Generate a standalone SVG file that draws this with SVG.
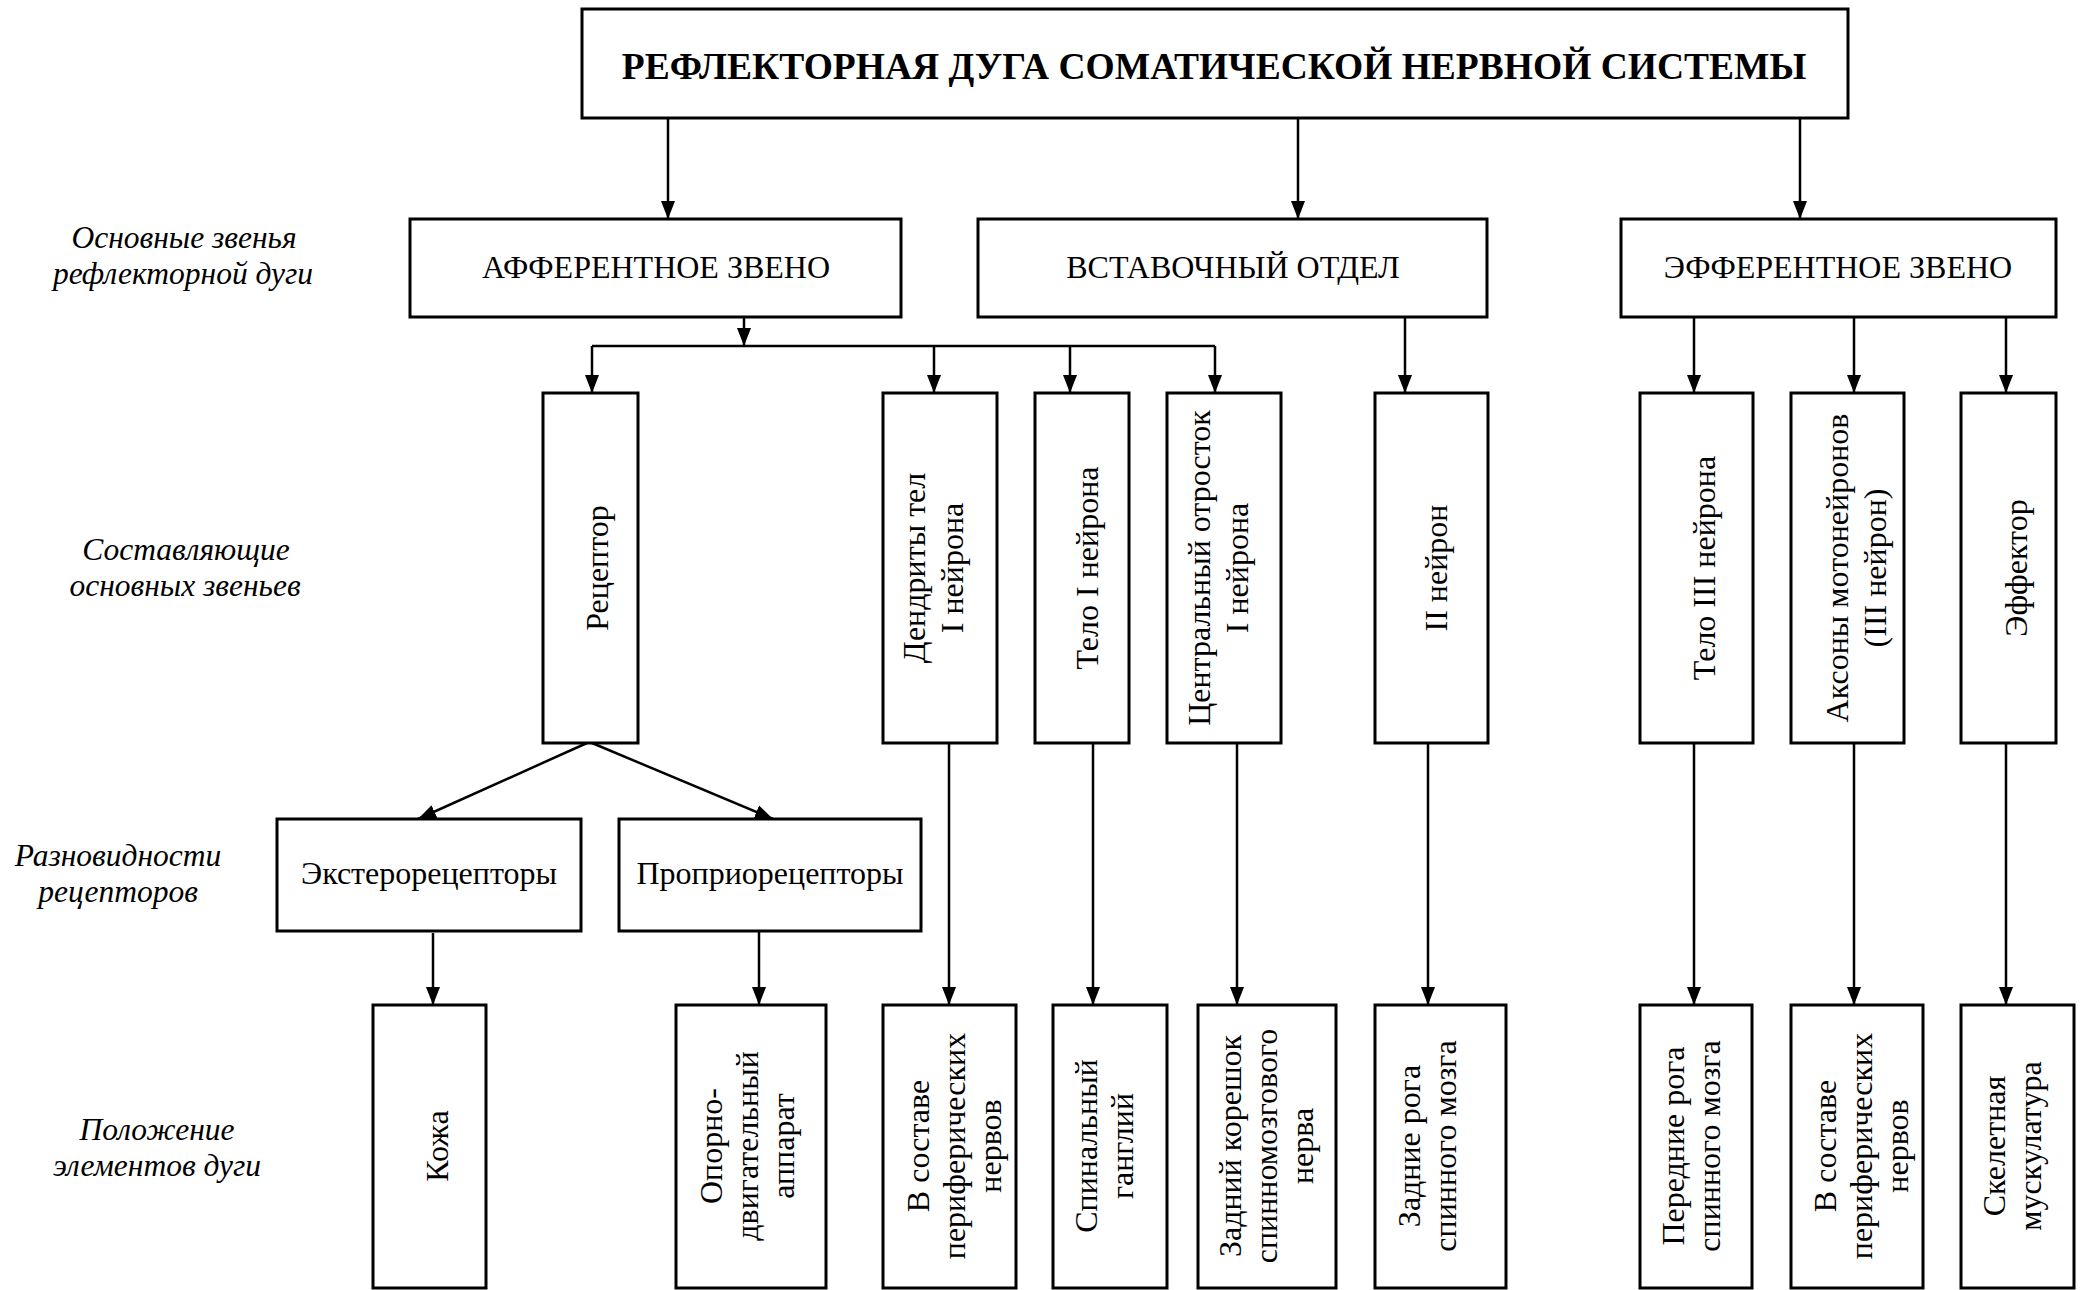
<svg xmlns="http://www.w3.org/2000/svg" width="2087" height="1290" viewBox="0 0 2087 1290">
  <defs>
    <marker id="arrow" markerUnits="userSpaceOnUse" markerWidth="18" markerHeight="16" refX="18" refY="8" orient="auto">
      <path d="M0,1 L18,8 L0,15 z" fill="#000"/>
    </marker>
    <style>
      .box { fill: #fff; stroke: #000; stroke-width: 3; }
      .t { font-family: "Liberation Serif", "Times New Roman", serif; fill: #000; }
      .title { font-size: 37.5px; font-weight: bold; text-anchor: middle; }
      .hdr { font-size: 32px; text-anchor: middle; }
      .lbl { font-size: 32px; text-anchor: middle; }
      .side { font-size: 31.5px; font-style: italic; text-anchor: middle; }
      .edge { fill: none; stroke: #000; stroke-width: 2.5; }
      .arr { marker-end: url(#arrow); }
    </style>
  </defs>
  <rect width="2087" height="1290" fill="#fff"/>

  <!-- row captions on the left -->
  <g id="captions" class="t side">
    <text x="184" y="248">Основные звенья</text>
    <text x="183" y="284">рефлекторной дуги</text>
    <text x="186" y="560">Составляющие</text>
    <text x="185" y="596">основных звеньев</text>
    <text x="118" y="866">Разновидности</text>
    <text x="118" y="902">рецепторов</text>
    <text x="157" y="1140">Положение</text>
    <text x="157" y="1176">элементов дуги</text>
  </g>

  <!-- connectors -->
  <g id="connectors">
    <path class="edge arr" d="M668,118 V219"/>
    <path class="edge arr" d="M1298,118 V219"/>
    <path class="edge arr" d="M1800,118 V219"/>
    <path class="edge arr" d="M744,317 V346"/>
    <path class="edge" d="M592,346 H1215"/>
    <path class="edge arr" d="M592,346 V393"/>
    <path class="edge arr" d="M934,346 V393"/>
    <path class="edge arr" d="M1070,346 V393"/>
    <path class="edge arr" d="M1215,346 V393"/>
    <path class="edge arr" d="M1405,317 V393"/>
    <path class="edge arr" d="M1694,317 V393"/>
    <path class="edge arr" d="M1854,317 V393"/>
    <path class="edge arr" d="M2006,317 V393"/>
    <path class="edge arr" d="M587,743 L418,819"/>
    <path class="edge arr" d="M592,743 L773,819"/>
    <path class="edge arr" d="M433,933 V1005"/>
    <path class="edge arr" d="M759,931 V1005"/>
    <path class="edge arr" d="M949,743 V1005"/>
    <path class="edge arr" d="M1093,743 V1005"/>
    <path class="edge arr" d="M1237,743 V1005"/>
    <path class="edge arr" d="M1428,743 V1005"/>
    <path class="edge arr" d="M1694,743 V1005"/>
    <path class="edge arr" d="M1854,743 V1005"/>
    <path class="edge arr" d="M2006,743 V1005"/>
  </g>

  <!-- title -->
  <g id="title">
    <rect class="box" x="582" y="9" width="1266" height="109"/>
    <text class="t title" x="1214" y="79">РЕФЛЕКТОРНАЯ ДУГА СОМАТИЧЕСКОЙ НЕРВНОЙ СИСТЕМЫ</text>
  </g>

  <!-- main links -->
  <g id="afferent">
    <rect class="box" x="410" y="219" width="491" height="98"/>
    <text class="t hdr" x="656" y="278">АФФЕРЕНТНОЕ ЗВЕНО</text>
  </g>
  <g id="intercalary">
    <rect class="box" x="978" y="219" width="509" height="98"/>
    <text class="t hdr" x="1233" y="278">ВСТАВОЧНЫЙ ОТДЕЛ</text>
  </g>
  <g id="efferent">
    <rect class="box" x="1621" y="219" width="435" height="98"/>
    <text class="t hdr" x="1838" y="278">ЭФФЕРЕНТНОЕ ЗВЕНО</text>
  </g>

  <!-- components (vertical labels) -->
  <g id="receptor">
    <rect class="box" x="543" y="393" width="95" height="350"/>
    <text class="t lbl" transform="translate(608,568) rotate(-90)">Рецептор</text>
  </g>
  <g id="dendrites">
    <rect class="box" x="883" y="393" width="114" height="350"/>
    <text class="t lbl" transform="translate(925,568) rotate(-90)"><tspan x="0" y="0">Дендриты тел</tspan><tspan x="0" y="38">I нейрона</tspan></text>
  </g>
  <g id="body-1">
    <rect class="box" x="1035" y="393" width="94" height="350"/>
    <text class="t lbl" transform="translate(1098,568) rotate(-90)">Тело I нейрона</text>
  </g>
  <g id="central-process">
    <rect class="box" x="1167" y="393" width="114" height="350"/>
    <text class="t lbl" transform="translate(1210,568) rotate(-90)"><tspan x="0" y="0">Центральный отросток</tspan><tspan x="0" y="38">I нейрона</tspan></text>
  </g>
  <g id="neuron-2">
    <rect class="box" x="1375" y="393" width="113" height="350"/>
    <text class="t lbl" transform="translate(1447,568) rotate(-90)">II нейрон</text>
  </g>
  <g id="body-3">
    <rect class="box" x="1640" y="393" width="113" height="350"/>
    <text class="t lbl" transform="translate(1715,568) rotate(-90)">Тело III нейрона</text>
  </g>
  <g id="axons">
    <rect class="box" x="1791" y="393" width="113" height="350"/>
    <text class="t lbl" transform="translate(1848,568) rotate(-90)"><tspan x="0" y="0">Аксоны мотонейронов</tspan><tspan x="0" y="38">(III нейрон)</tspan></text>
  </g>
  <g id="effector">
    <rect class="box" x="1961" y="393" width="95" height="350"/>
    <text class="t lbl" transform="translate(2027,568) rotate(-90)">Эффектор</text>
  </g>

  <!-- receptor kinds -->
  <g id="extero">
    <rect class="box" x="277" y="819" width="304" height="112"/>
    <text class="t lbl" x="429" y="884">Экстерорецепторы</text>
  </g>
  <g id="proprio">
    <rect class="box" x="619" y="819" width="302" height="112"/>
    <text class="t lbl" x="770" y="884">Проприорецепторы</text>
  </g>

  <!-- locations -->
  <g id="skin">
    <rect class="box" x="373" y="1005" width="113" height="283"/>
    <text class="t lbl" transform="translate(448,1146) rotate(-90)">Кожа</text>
  </g>
  <g id="locomotor">
    <rect class="box" x="676" y="1005" width="150" height="283"/>
    <text class="t lbl" transform="translate(722,1146) rotate(-90)"><tspan x="0" y="0">Опорно-</tspan><tspan x="0" y="36">двигательный</tspan><tspan x="0" y="72">аппарат</tspan></text>
  </g>
  <g id="peripheral-1">
    <rect class="box" x="883" y="1005" width="133" height="283"/>
    <text class="t lbl" transform="translate(929,1146) rotate(-90)"><tspan x="0" y="0">В составе</tspan><tspan x="0" y="36">периферических</tspan><tspan x="0" y="72">нервов</tspan></text>
  </g>
  <g id="ganglion">
    <rect class="box" x="1053" y="1005" width="114" height="283"/>
    <text class="t lbl" transform="translate(1097,1146) rotate(-90)"><tspan x="0" y="0">Спинальный</tspan><tspan x="0" y="36">ганглий</tspan></text>
  </g>
  <g id="dorsal-root">
    <rect class="box" x="1198" y="1005" width="138" height="283"/>
    <text class="t lbl" transform="translate(1241,1146) rotate(-90)"><tspan x="0" y="0">Задний корешок</tspan><tspan x="0" y="36">спинномозгового</tspan><tspan x="0" y="72">нерва</tspan></text>
  </g>
  <g id="dorsal-horns">
    <rect class="box" x="1375" y="1005" width="131" height="283"/>
    <text class="t lbl" transform="translate(1420,1146) rotate(-90)"><tspan x="0" y="0">Задние рога</tspan><tspan x="0" y="36">спинного мозга</tspan></text>
  </g>
  <g id="ventral-horns">
    <rect class="box" x="1640" y="1005" width="112" height="283"/>
    <text class="t lbl" transform="translate(1684,1146) rotate(-90)"><tspan x="0" y="0">Передние рога</tspan><tspan x="0" y="36">спинного мозга</tspan></text>
  </g>
  <g id="peripheral-2">
    <rect class="box" x="1791" y="1005" width="132" height="283"/>
    <text class="t lbl" transform="translate(1836,1146) rotate(-90)"><tspan x="0" y="0">В составе</tspan><tspan x="0" y="36">периферических</tspan><tspan x="0" y="72">нервов</tspan></text>
  </g>
  <g id="muscle">
    <rect class="box" x="1961" y="1005" width="113" height="283"/>
    <text class="t lbl" transform="translate(2005,1146) rotate(-90)"><tspan x="0" y="0">Скелетная</tspan><tspan x="0" y="36">мускулатура</tspan></text>
  </g>
</svg>
